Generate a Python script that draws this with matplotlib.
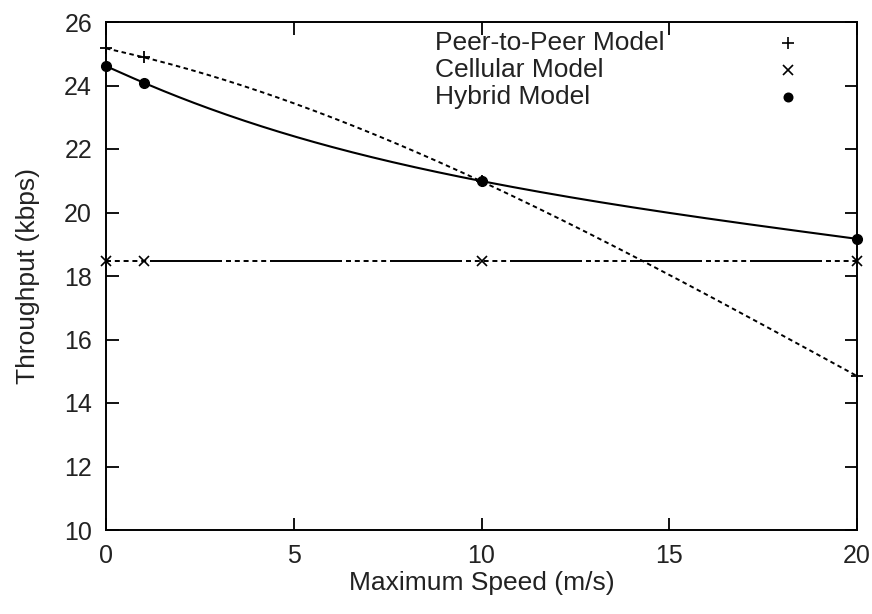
import numpy as np
import matplotlib
matplotlib.use('Agg')
from matplotlib import pyplot as plt

plt.rcParams['font.family'] = ['Liberation Sans', 'DejaVu Sans']
plt.rcParams['lines.scale_dashes'] = False

speed = [0, 1, 10, 20]
p2p = [25.17, 24.89, 20.98, 14.85]
cellular = [18.46, 18.46, 18.46, 18.46]
hybrid = [24.61, 24.09, 20.99, 19.17]
labels = ['Peer-to-Peer Model', 'Cellular Model', 'Hybrid Model']

xticks = [0, 5, 10, 15, 20]
yticks = [10, 12, 14, 16, 18, 20, 22, 24, 26]


def natural_spline(x, y, n=300):
    # same as gnuplot "smooth csplines"
    x = np.asarray(x, float)
    y = np.asarray(y, float)
    h = np.diff(x)
    k = len(x)
    A = np.zeros((k, k))
    b = np.zeros(k)
    A[0, 0] = A[-1, -1] = 1
    for i in range(1, k - 1):
        A[i, i - 1] = h[i - 1]
        A[i, i] = 2 * (h[i - 1] + h[i])
        A[i, i + 1] = h[i]
        b[i] = 6 * ((y[i + 1] - y[i]) / h[i] - (y[i] - y[i - 1]) / h[i - 1])
    M = np.linalg.solve(A, b)
    xs = np.linspace(x[0], x[-1], n)
    idx = np.clip(np.searchsorted(x, xs) - 1, 0, k - 2)
    x0, x1 = x[idx], x[idx + 1]
    hh = x1 - x0
    t0 = x1 - xs
    t1 = xs - x0
    ys = (M[idx] * t0 ** 3 + M[idx + 1] * t1 ** 3) / (6 * hh) \
        + (y[idx] / hh - M[idx] * hh / 6) * t0 \
        + (y[idx + 1] / hh - M[idx + 1] * hh / 6) * t1
    return xs, ys


px = 0.72  # pixels -> points at dpi 100
p2p_dash = (0, (4.5 * px, 3.5 * px))
cell_dash = (76 * px, (72 * px, 4 * px) + (5 * px, 3.8 * px) * 5)

fig = plt.figure(figsize=(8.72, 6.14), dpi=100)
ax = fig.add_axes([106 / 872, 1 - 530 / 614, 751 / 872, 508 / 614])

xs, ys = natural_spline(speed, p2p)
ax.plot(xs, ys, color='black', lw=1.4, linestyle=p2p_dash)
ax.plot(speed, cellular, color='black', lw=1.4, linestyle=cell_dash)
xs, ys = natural_spline(speed, hybrid)
ax.plot(xs, ys, color='black', lw=1.5)

ax.plot(speed, p2p, linestyle='none', marker='+', ms=8, mew=1.3, color='black', clip_on=False)
ax.plot(speed, cellular, linestyle='none', marker='x', ms=7, mew=1.2, color='black', clip_on=False)
ax.plot(speed, hybrid, linestyle='none', marker='o', ms=7, color='black', clip_on=False)

# key, gnuplot style: left-justified text, symbol on the right
markers = [('+', 8), ('x', 7), ('o', 6)]
for i, (lab, (m, s)) in enumerate(zip(labels, markers)):
    yk = (530 - 43 - 27 * i) / 508
    ax.text(0.438, yk, lab, transform=ax.transAxes, fontsize=19, color='#222222',
            va='center', ha='left')
    ax.plot([0.908], [yk], transform=ax.transAxes, marker=m, ms=s, mew=1.2,
            color='black', linestyle='none', clip_on=False)

ax.set_xlim(0, 20)
ax.set_ylim(10, 26)
ax.set_xticks(xticks)
ax.set_yticks(yticks)
ax.tick_params(direction='in', length=9, width=1.3, top=True, right=True,
               labelsize=18, labelcolor='#222222')
ax.tick_params(axis='x', pad=10)
ax.tick_params(axis='y', pad=10)
for sp in ax.spines.values():
    sp.set_linewidth(1.4)

ax.set_xlabel('Maximum Speed (m/s)', fontsize=19, color='#222222')
ax.set_ylabel('Throughput (kbps)', fontsize=19, color='#222222')
ax.xaxis.set_label_coords(0.5, -0.08)
ax.yaxis.set_label_coords(-0.088, 0.5)

plt.savefig('out.png', dpi=100)
